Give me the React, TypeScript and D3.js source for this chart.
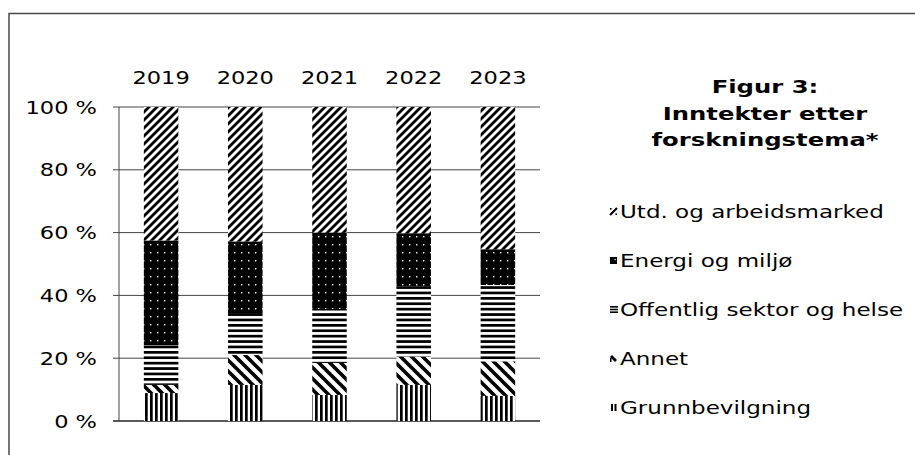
import React from "react";
import * as d3 from "d3";

const years = ["2019", "2020", "2021", "2022", "2023"];
const seriesNames = [
  "Grunnbevilgning",
  "Annet",
  "Offentlig sektor og helse",
  "Energi og miljø",
  "Utd. og arbeidsmarked",
];
const grunnbevilgning = [8.9, 11.5, 8.3, 11.5, 8.0];
const annet = [2.6, 9.5, 10.2, 9.0, 11.0];
const offentlig = [12.6, 13.1, 17.2, 22.5, 24.3];
const energi = [33.4, 23.1, 24.3, 16.8, 11.4];
const utd = [42.5, 42.8, 40.0, 40.2, 45.3];
const yTicks = [0, 20, 40, 60, 80, 100];
const titleLines = ["Figur 3:", "Inntekter etter", "forskningstema*"];
const legendOrder = [
  "Utd. og arbeidsmarked",
  "Energi og miljø",
  "Offentlig sektor og helse",
  "Annet",
  "Grunnbevilgning",
];

const W = 915;
const H = 455;
const SX = 1.25;
const LSX = 1.28;
const TSX = 1.35;
const FONT = "'DejaVu Sans', Verdana, sans-serif";

const patternIds: Record<string, string> = {
  Grunnbevilgning: "p-grunn",
  Annet: "p-annet",
  "Offentlig sektor og helse": "p-off",
  "Energi og miljø": "p-energi",
  "Utd. og arbeidsmarked": "p-utd",
};

function LegendMarker({ k, x0, y0 }: { k: string; x0: number; y0: number }) {
  const s = 7;
  if (k === "Utd. og arbeidsmarked") {
    return (
      <g>
        <line x1={x0} y1={y0 + s} x2={x0 + s} y2={y0} stroke="#000" strokeWidth={2.2} />
        <rect x={x0} y={y0} width={1.6} height={1.6} fill="#000" />
        <rect x={x0 + s - 1.6} y={y0 + s - 1.6} width={1.6} height={1.6} fill="#000" />
      </g>
    );
  }
  if (k === "Energi og miljø") {
    return (
      <g>
        <rect x={x0} y={y0} width={s} height={s} fill="#000" />
        <rect x={x0 + 4.5} y={y0 + 2} width={1.2} height={1.2} fill="#fff" />
      </g>
    );
  }
  if (k === "Offentlig sektor og helse") {
    return (
      <g>
        {[0, 2.7, 5.4].map((d) => (
          <rect key={d} x={x0} y={y0 + d} width={s + 1} height={1.6} fill="#000" />
        ))}
      </g>
    );
  }
  if (k === "Annet") {
    return (
      <g>
        <path
          d={`M${x0},${y0 + 2} L${x0 + 2},${y0} L${x0 + s},${y0 + 5} L${x0 + 5},${y0 + s} Z`}
          fill="#000"
        />
        <rect x={x0} y={y0 + 3} width={1.5} height={4} fill="#000" />
      </g>
    );
  }
  return (
    <g>
      <rect x={x0 + 1} y={y0} width={2} height={s} fill="#000" />
      <rect x={x0 + 4.5} y={y0} width={2} height={s} fill="#000" />
    </g>
  );
}

export default function App() {
  const rows = years.map((y, i) => ({
    year: y,
    Grunnbevilgning: grunnbevilgning[i],
    Annet: annet[i],
    "Offentlig sektor og helse": offentlig[i],
    "Energi og miljø": energi[i],
    "Utd. og arbeidsmarked": utd[i],
  }));
  const stacked = d3.stack<any>().keys(seriesNames)(rows);

  const x = d3
    .scaleBand<string>()
    .domain(years)
    .range([119, 540])
    .paddingInner(0.59)
    .paddingOuter(0.295);
  const y = d3.scaleLinear().domain([0, 100]).range([421, 107]);

  const legendY = d3
    .scalePoint<string>()
    .domain(legendOrder)
    .range([211, 407]);

  return (
    <svg
      width={W}
      height={H}
      style={{ position: "absolute", left: 0, top: 0, background: "#fff" }}
      fontFamily={FONT}
    >
      <defs>
        <pattern id="p-utd" width={8} height={8} patternUnits="userSpaceOnUse">
          <rect width={8} height={8} fill="#fff" />
          <path
            d="M-2,2 L2,-2 M0,8 L8,0 M6,10 L10,6"
            stroke="#000"
            strokeWidth={2.8}
          />
        </pattern>
        <pattern id="p-annet" width={11} height={11} patternUnits="userSpaceOnUse">
          <rect width={11} height={11} fill="#fff" />
          <path
            d="M0,0 L11,11 M-3,8 L3,14 M8,-3 L14,3"
            stroke="#000"
            strokeWidth={3.6}
          />
        </pattern>
        <pattern id="p-off" width={8} height={5.4} patternUnits="userSpaceOnUse">
          <rect width={8} height={5.4} fill="#fff" />
          <rect y={0} width={8} height={2.7} fill="#000" />
        </pattern>
        <pattern id="p-grunn" width={5} height={8} patternUnits="userSpaceOnUse">
          <rect width={5} height={8} fill="#fff" />
          <rect x={0} width={2.7} height={8} fill="#000" />
        </pattern>
        <pattern id="p-energi" width={7} height={8} patternUnits="userSpaceOnUse">
          <rect width={7} height={8} fill="#000" />
          <rect x={3} y={4} width={1.4} height={1.4} fill="#fff" />
        </pattern>
      </defs>

      {/* outer frame */}
      <rect
        x={9}
        y={13.5}
        width={W + 20}
        height={H + 20}
        fill="none"
        stroke="#4a4a4a"
        strokeWidth={1.5}
      />

      {/* gridlines */}
      {yTicks.map((t) => (
        <line
          key={"g" + t}
          x1={113}
          x2={540}
          y1={y(t)}
          y2={y(t)}
          stroke={t === 0 ? "#222" : "#444"}
          strokeWidth={t === 0 ? 1.6 : 1}
        />
      ))}
      <line x1={119} x2={119} y1={y(100)} y2={y(0)} stroke="#444" strokeWidth={1} />

      {/* bars */}
      {stacked.map((s) => (
        <g key={s.key} fill={`url(#${patternIds[s.key]})`}>
          {s.map((d: any) => (
            <rect
              key={d.data.year}
              x={x(d.data.year)}
              width={x.bandwidth()}
              y={y(d[1])}
              height={y(d[0]) - y(d[1])}
            />
          ))}
        </g>
      ))}

      {/* y tick labels */}
      {yTicks.map((t) => (
        <text
          key={"t" + t}
          transform={`translate(97,${y(t) + 6.5}) scale(${SX},1)`}
          textAnchor="end"
          fontSize={18}
          fill="#000"
        >
          {`${t} %`}
        </text>
      ))}

      {/* year labels */}
      {years.map((yr) => (
        <text
          key={"y" + yr}
          transform={`translate(${(x(yr) as number) + x.bandwidth() / 2},84) scale(${SX},1)`}
          textAnchor="middle"
          fontSize={18}
          fill="#000"
        >
          {yr}
        </text>
      ))}

      {/* title */}
      {titleLines.map((l, i) => (
        <text
          key={"ti" + i}
          transform={`translate(765,${93 + i * 26.5}) scale(${TSX},1)`}
          textAnchor="middle"
          fontSize={18}
          fontWeight="bold"
          fill="#000"
        >
          {l}
        </text>
      ))}

      {/* legend */}
      {legendOrder.map((k) => {
        const cy = legendY(k) as number;
        return (
          <g key={"l" + k}>
            <LegendMarker k={k} x0={610} y0={cy - 3} />
            <text
              transform={`translate(620,${cy + 6.5}) scale(${LSX},1)`}
              fontSize={18}
              fill="#000"
            >
              {k}
            </text>
          </g>
        );
      })}
    </svg>
  );
}
